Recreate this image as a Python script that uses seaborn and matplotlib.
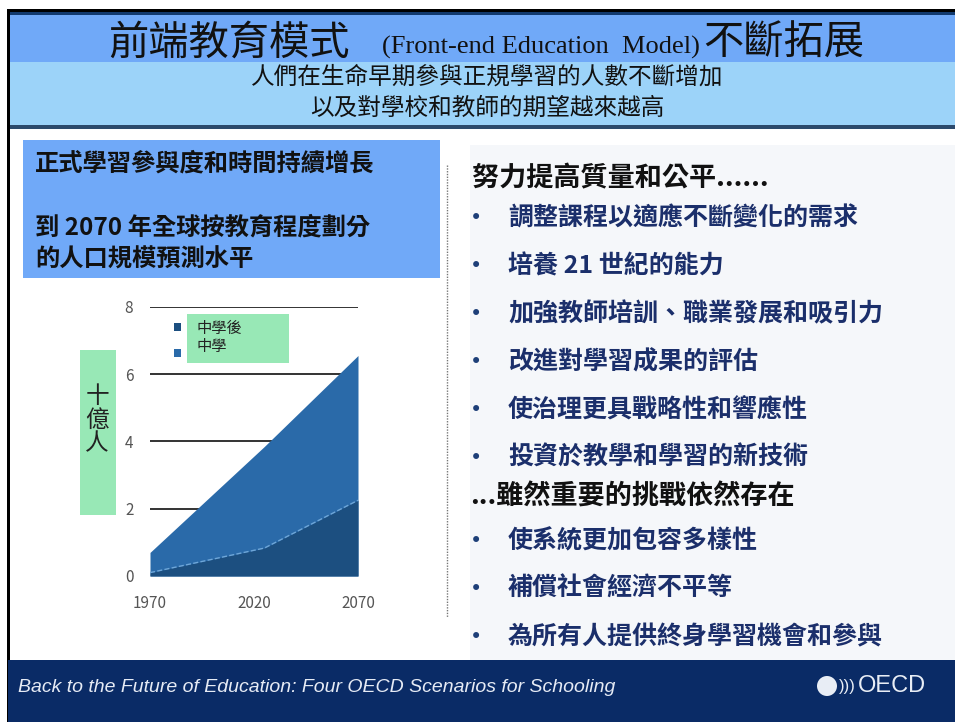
import numpy as np
import pandas as pd
import matplotlib
matplotlib.use("Agg")
import matplotlib.pyplot as plt
import seaborn as sns
from matplotlib.patches import Rectangle, Circle

# chart data (billions of people)
years = [1970, 2025, 2070]
post_secondary = [0.1, 0.83, 2.25]
secondary = [0.6, 3.02, 4.3]
series_names = ["中學後", "中學"]
y_ticks = [0, 2, 4, 6, 8]
x_ticks = [1970, 2020, 2070]

# slide texts
title_zh_1 = "前端教育模式"
title_en = "(Front-end Education  Model)"
title_zh_2 = "不斷拓展"
subtitle = ["人們在生命早期參與正規學習的人數不斷增加", "以及對學校和教師的期望越來越高"]
box_lines = ["正式學習參與度和時間持續增長", "到 2070 年全球按教育程度劃分", "的人口規模預測水平"]
head_1 = "努力提高質量和公平......"
bullets_1 = ["調整課程以適應不斷變化的需求", "培養 21 世紀的能力", "加強教師培訓、職業發展和吸引力",
             "改進對學習成果的評估", "使治理更具戰略性和響應性", "投資於教學和學習的新技術"]
head_2 = "...雖然重要的挑戰依然存在"
bullets_2 = ["使系統更加包容多樣性", "補償社會經濟不平等", "為所有人提供終身學習機會和參與"]
y_label = "十\n億\n人"
footer = "Back to the Future of Education: Four OECD Scenarios for Schooling"

sns.set_theme(style="white")
plt.rcParams["font.family"] = ["Noto Sans CJK TC", "DejaVu Sans"]

W, H = 955, 722
fig = plt.figure(figsize=(W / 100, H / 100), dpi=100)
fig.patch.set_facecolor("white")

# background layer in pixel coordinates
bg = fig.add_axes([0, 0, 1, 1], zorder=0)
bg.set_xlim(0, W)
bg.set_ylim(H, 0)
bg.axis("off")

def rect(ax, x, y, w, h, color):
    ax.add_patch(Rectangle((x, y), w, h, facecolor=color, edgecolor="none"))

# header bands
rect(bg, 8, 9, W, 3, "#000000")
rect(bg, 8, 12, W, 3, "#123a6e")
rect(bg, 8, 15, W, 47, "#70a9f8")
rect(bg, 8, 62, W, 63, "#9cd3f9")
rect(bg, 8, 125, W, 4, "#2c4a6c")
rect(bg, 7, 9, 2.5, H, "#000000")

# right panel and left box
rect(bg, 470, 145, W - 470, 515, "#f5f7fa")
rect(bg, 23, 140, 417, 138, "#70a9f8")
bg.plot([447, 447], [165, 617], color="#777777", lw=1, ls=(0, (1, 1)))

# footer
rect(bg, 8, 660, W, 62, "#0a2b66")

bg.text(108, 43, title_zh_1, fontsize=29, va="center", ha="left", color="#111111")
bg.text(382, 47, title_en, fontsize=19, va="center", ha="left", color="#111111",
        family=["Liberation Serif", "DejaVu Serif"])
bg.text(703, 43, title_zh_2, fontsize=29, va="center", ha="left", color="#111111")
bg.text(487, 77, subtitle[0], fontsize=17, va="center", ha="center", color="#111111")
bg.text(487, 108, subtitle[1], fontsize=17, va="center", ha="center", color="#111111")

bg.text(35, 164, box_lines[0], fontsize=17.5, fontweight="bold", va="center", ha="left", color="#111111")
bg.text(35, 228, box_lines[1], fontsize=17.5, fontweight="bold", va="center", ha="left", color="#111111")
bg.text(35, 260, box_lines[2], fontsize=17.5, fontweight="bold", va="center", ha="left", color="#111111")

navy = "#1b2f6b"
bg.text(472, 178, head_1, fontsize=19.5, fontweight="bold", va="center", ha="left", color="#111111")
for i, b in enumerate(bullets_1):
    yy = 218 + i * 48
    bg.text(476, yy, "•", fontsize=15, va="center", ha="center", color="#1d3f78", family="DejaVu Sans")
    bg.text(508, yy, b, fontsize=18, fontweight="bold", va="center", ha="left", color=navy)
bg.text(470, 497, head_2, fontsize=19.5, fontweight="bold", va="center", ha="left", color="#111111")
for i, b in enumerate(bullets_2):
    yy = 541 + i * 48
    bg.text(476, yy, "•", fontsize=15, va="center", ha="center", color="#1d3f78", family="DejaVu Sans")
    bg.text(508, yy, b, fontsize=18, fontweight="bold", va="center", ha="left", color=navy)

bg.text(18, 687, footer, fontsize=14, style="italic", va="center", ha="left", color="#e6ebf5",
        family=["Liberation Sans", "DejaVu Sans"])
bg.add_patch(Circle((827, 686), 10, facecolor="#e8edf5", edgecolor="none"))
bg.text(839, 686, ")))", fontsize=12, va="center", ha="left", color="#e8edf5",
        family=["Liberation Sans", "DejaVu Sans"])
bg.text(858, 686, "OECD", fontsize=17, va="center", ha="left", color="#e8edf5",
        family=["Liberation Sans", "DejaVu Sans"])

# y label box
rect(bg, 80, 350, 36, 165, "#98e8b6")
bg.text(97, 420, y_label, fontsize=17, va="center", ha="center", color="#222222", linespacing=1.05)

# area chart
x0, x1, y0, y8 = 150, 358, 576, 306.7
ax = fig.add_axes([x0 / W, 1 - y0 / H, (x1 - x0) / W, (y0 - y8) / H], zorder=2)
ax.patch.set_alpha(0)
df = pd.DataFrame({"year": years, "post": post_secondary, "sec": secondary})
df["total"] = df["post"] + df["sec"]

for t in y_ticks[1:]:
    ax.plot([1970, 2070], [t, t], color="#333333", lw=1.4, zorder=1)
ax.fill_between(df["year"], 0, df["total"], color="#2a6aa9", lw=0, zorder=2)
ax.fill_between(df["year"], 0, df["post"], color="#1c4f80", lw=0, zorder=3)
sns.lineplot(data=df, x="year", y="post", ax=ax, color="#6ea6d8", lw=1, ls="--", zorder=4)

ax.set_xlim(1970, 2070)
ax.set_ylim(0, 8)
ax.set_xticks(x_ticks)
ax.set_yticks(y_ticks)
ax.set_xlabel("")
ax.set_ylabel("")
ax.tick_params(axis="both", length=0, labelsize=11, labelcolor="#555555")
ax.tick_params(axis="y", pad=12)
ax.tick_params(axis="x", pad=14)
for s in ax.spines.values():
    s.set_visible(False)

# legend box on top of the chart
lg = fig.add_axes([0, 0, 1, 1], zorder=3)
lg.set_xlim(0, W)
lg.set_ylim(H, 0)
lg.axis("off")
rect(lg, 187, 314, 102, 49, "#98e8b6")
rect(lg, 174, 323, 7, 8, "#1c4f80")
rect(lg, 174, 349, 7, 8, "#2a6aa9")
lg.text(197, 328, series_names[0], fontsize=11, va="center", ha="left", color="#222222")
lg.text(197, 347, series_names[1], fontsize=11, va="center", ha="left", color="#222222")

fig.savefig("out.png", dpi=100)
